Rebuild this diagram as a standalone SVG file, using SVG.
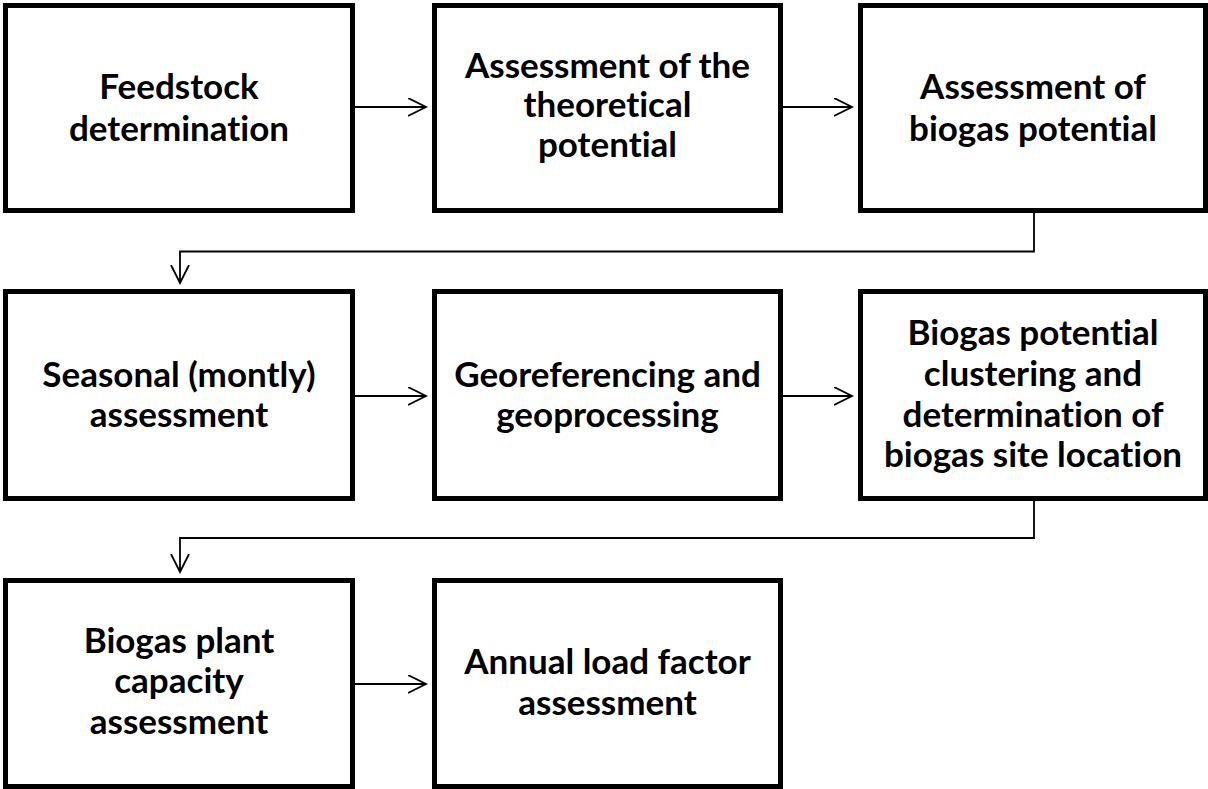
<svg xmlns="http://www.w3.org/2000/svg" width="1208" height="789" viewBox="0 0 1208 789">
  <style>
    .box { fill: #ffffff; stroke: #000000; stroke-width: 5; }
    .lbl { font-family: Lato, "Liberation Sans", sans-serif; font-weight: bold; font-size: 35px; fill: #000000; text-anchor: middle; font-variant-ligatures: none; font-feature-settings: "liga" 0, "dlig" 0; }
    .conn { fill: none; stroke: #000000; stroke-width: 1.8; marker-end: url(#arrow); }
  </style>
  <defs>
    <marker id="arrow" markerUnits="userSpaceOnUse" markerWidth="22" markerHeight="22" refX="18" refY="9.5" orient="auto" viewBox="0 0 22 22">
      <path d="M0,0.5 L18,9.5 L0,18.5" fill="none" stroke="#000000" stroke-width="1.8"/>
    </marker>
  </defs>
  <rect width="1208" height="789" fill="#ffffff"/>

  <g id="connectors">
    <path class="conn" d="M355,107 L426,107"/>
    <path class="conn" d="M783,107 L852,107"/>
    <path class="conn" d="M1034,213 L1034,251.5 L180,251.5 L180,283"/>
    <path class="conn" d="M355,396 L426,396"/>
    <path class="conn" d="M783,396 L852,396"/>
    <path class="conn" d="M1034,501 L1034,538 L180,538 L180,572"/>
    <path class="conn" d="M355,684 L426,684"/>
  </g>

  <g id="n1">
    <rect class="box" x="5.5" y="5.5" width="347" height="205"/>
    <text class="lbl" x="179" y="99">Feedstock</text>
    <text class="lbl" x="179" y="141">determination</text>
  </g>
  <g id="n2">
    <rect class="box" x="434.5" y="5.5" width="346" height="205"/>
    <text class="lbl" x="607.5" y="77.5">Assessment of the</text>
    <text class="lbl" x="607.5" y="117">theoretical</text>
    <text class="lbl" x="607.5" y="156.5">potential</text>
  </g>
  <g id="n3">
    <rect class="box" x="860.5" y="5.5" width="345" height="205"/>
    <text class="lbl" x="1033" y="99">Assessment of</text>
    <text class="lbl" x="1033" y="141">biogas potential</text>
  </g>
  <g id="n4">
    <rect class="box" x="5.5" y="291.5" width="347" height="207"/>
    <text class="lbl" x="179" y="387">Seasonal (montly)</text>
    <text class="lbl" x="179" y="427">assessment</text>
  </g>
  <g id="n5">
    <rect class="box" x="434.5" y="291.5" width="346" height="207"/>
    <text class="lbl" x="607.5" y="387">Georeferencing and</text>
    <text class="lbl" x="607.5" y="427">geoprocessing</text>
  </g>
  <g id="n6">
    <rect class="box" x="860.5" y="291.5" width="345" height="207"/>
    <text class="lbl" x="1033" y="345">Biogas potential</text>
    <text class="lbl" x="1033" y="385.5">clustering and</text>
    <text class="lbl" x="1033" y="426.5">determination of</text>
    <text class="lbl" x="1033" y="467">biogas site location</text>
  </g>
  <g id="n7">
    <rect class="box" x="5.5" y="580.5" width="347" height="206"/>
    <text class="lbl" x="179" y="653">Biogas plant</text>
    <text class="lbl" x="179" y="693">capacity</text>
    <text class="lbl" x="179" y="734">assessment</text>
  </g>
  <g id="n8">
    <rect class="box" x="434.5" y="580.5" width="346" height="206"/>
    <text class="lbl" x="607.5" y="674">Annual load factor</text>
    <text class="lbl" x="607.5" y="715">assessment</text>
  </g>
</svg>
